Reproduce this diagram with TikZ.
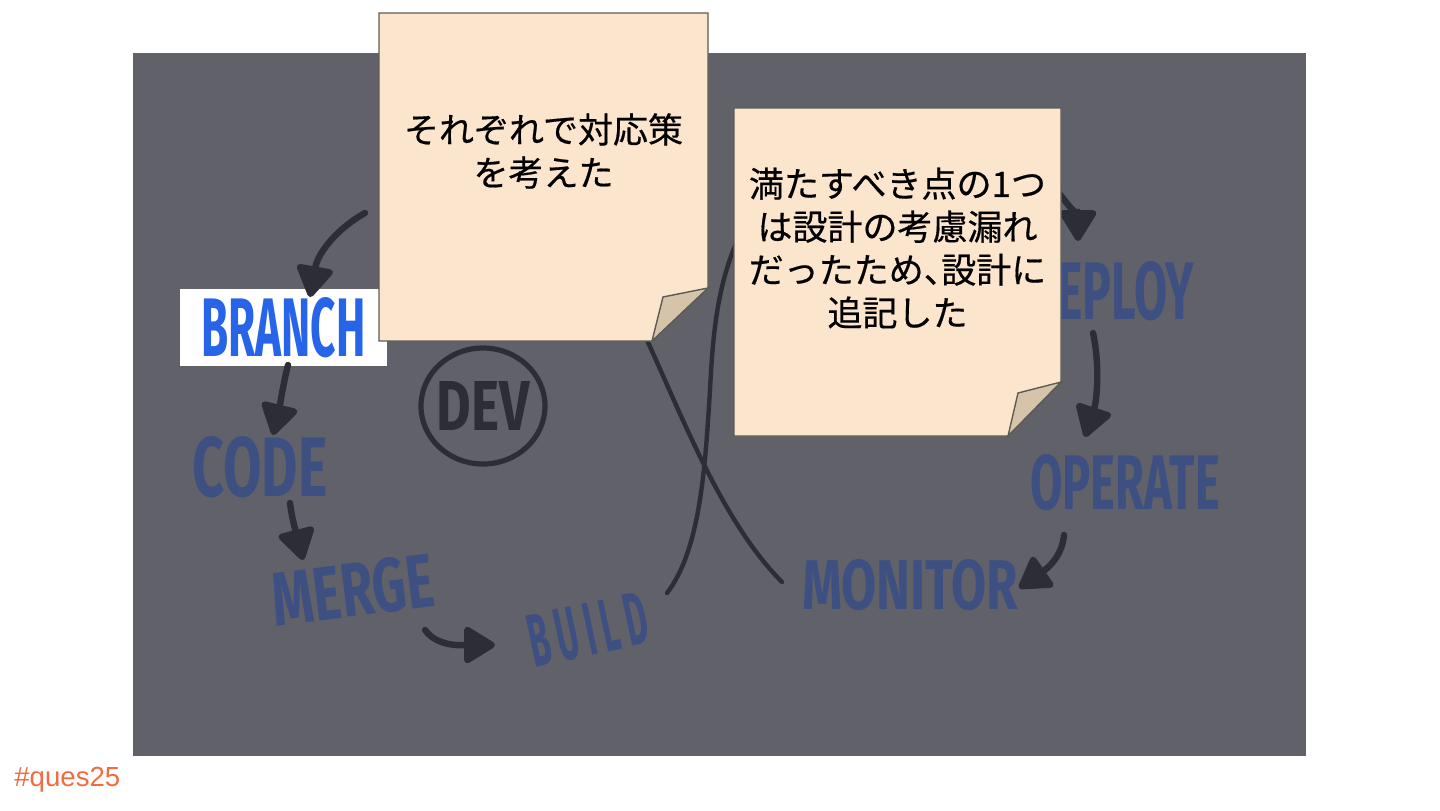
\documentclass[tikz,border=0pt]{standalone}
\usepackage{fontspec}
\usepackage{graphicx}
\setmainfont{Liberation Sans}
\newfontfamily\jpfont{Noto Sans CJK JP}[FakeBold=0.5]
\newfontfamily\handfont{Fira Sans}
\usetikzlibrary{arrows.meta}
\definecolor{boardc}{RGB}{96,97,105}
\definecolor{notec}{RGB}{252,229,205}
\definecolor{notebd}{RGB}{95,90,85}
\definecolor{flapc}{RGB}{214,196,170}
\definecolor{inkc}{RGB}{44,45,53}
\definecolor{labelc}{RGB}{62,79,130}
\definecolor{branchc}{RGB}{40,100,232}
\definecolor{tagc}{RGB}{242,108,64}
\newcommand\handtext[3]{\resizebox{#1}{#2}{\handfont\bfseries #3}}
\begin{document}
\begin{tikzpicture}[x=0.5pt,y=-0.5pt,
  flow/.style={draw=inkc,line width=3.2pt,line cap=round,-{Triangle[length=17pt,width=20pt,round]}},
  wire/.style={draw=inkc,line width=2.2pt,line cap=round},
  hand/.style={inner sep=0pt,text=labelc},
  notebox/.style={fill=notec,draw=notebd,line width=0.7pt},
  flapbox/.style={fill=flapc,draw=notebd,line width=0.7pt},
  notetext/.style={align=center,inner sep=0pt,text=black,font=\jpfont\fontsize{17.5pt}{21.5pt}\selectfont}]
% canvas
\path[use as bounding box,fill=white] (0,0) rectangle (1440,810);
\fill[boardc] (133,53) rectangle (1306,756);
% connector end points
\coordinate (loopL) at (365,213);
\coordinate (branchIn) at (310,297);
\coordinate (branchOut) at (288,365);
\coordinate (codeIn) at (273,435);
\coordinate (codeOut) at (290,503);
\coordinate (mergeIn) at (303,560);
\coordinate (mergeOut) at (425,630);
\coordinate (buildIn) at (495,645);
\coordinate (buildOut) at (667,593);
\coordinate (crossTop) at (745,225);
\coordinate (crossTopL) at (640,325);
\coordinate (monitorOut) at (782,582);
\coordinate (loopR) at (1055,188);
\coordinate (deployIn) at (1078,241);
\coordinate (deployOut) at (1093,333);
\coordinate (operateIn) at (1085,437);
\coordinate (operateOut) at (1064,535);
\coordinate (monitorIn) at (1019,588);
% crossing strokes of the loop
\draw[wire] (buildOut) .. controls (700,550) and (705,470) .. (710,390)
  .. controls (713,330) and (718,275) .. (crossTop);
\draw[wire] (crossTopL) .. controls (680,410) and (720,520) .. (monitorOut);
% labels
\node[hand,fill=white,text=branchc,inner xsep=10.75pt,inner ysep=4pt] (branch) at (283.5,327.5) {\handtext{82pt}{29.5pt}{BRANCH}};
\node[hand] (code) at (260,467) {\handtext{67.5pt}{30pt}{CODE}};
\node[hand,rotate=7] (merge) at (353,590) {\handtext{81pt}{27pt}{MERGE}};
\node[hand,rotate=12] (build) at (588,630) {\handtext{60pt}{26pt}{B\hspace{0.2em}U\hspace{0.2em}I\hspace{0.2em}L\hspace{0.2em}D}};
\node[hand,text=inkc] (dev) at (483,406) {\handtext{46.5pt}{24.5pt}{DEV}};
\draw[inkc,line width=2.6pt] (dev.center) ellipse [x radius=31pt,y radius=29pt];
\node[hand] (deploy) at (1110,291) {\handtext{84pt}{29pt}{DEPLOY}};
\node[hand] (operate) at (1125,483) {\handtext{95pt}{27.5pt}{OPERATE}};
\node[hand] (monitor) at (910,585) {\handtext{108pt}{25pt}{MONITOR}};
% arrows
\draw[flow] (loopL) .. controls (338,228) and (318,252) .. (branchIn);
\draw[flow] (branchOut) .. controls (283,385) and (279,410) .. (codeIn);
\draw[flow] (codeOut) .. controls (292,520) and (298,540) .. (mergeIn);
\draw[flow] (mergeOut) .. controls (438,648) and (465,645) .. (buildIn);
\draw[flow] (loopR) .. controls (1068,205) and (1078,218) .. (deployIn);
\draw[flow] (deployOut) .. controls (1100,365) and (1097,400) .. (operateIn);
\draw[flow] (operateOut) .. controls (1062,558) and (1045,570) .. (monitorIn);
% sticky notes
\path[notebox] (379,13) -- (708,13) -- (708,288) -- (652,341) -- (379,341) -- cycle;
\path[flapbox] (708,288) -- (663,297) -- (652,341) -- cycle;
\node[notetext] (idea1) at (543.5,151) {それぞれで対応策\\を考えた};
\path[notebox] (734,108) -- (1061,108) -- (1061,382) -- (1008,436) -- (734,436) -- cycle;
\path[flapbox] (1061,382) -- (1018,393) -- (1008,436) -- cycle;
\node[notetext] (idea2) at (897.5,248) {満たすべき点の1つ\\は設計の考慮漏れ\\だったため、\kern-0.5em 設計に\\追記した};
% tag
\node[anchor=base west,inner sep=0pt,text=tagc,font=\fontsize{13.8pt}{16pt}\selectfont] (tag) at (14,786) {\#ques25};
\end{tikzpicture}
\end{document}
